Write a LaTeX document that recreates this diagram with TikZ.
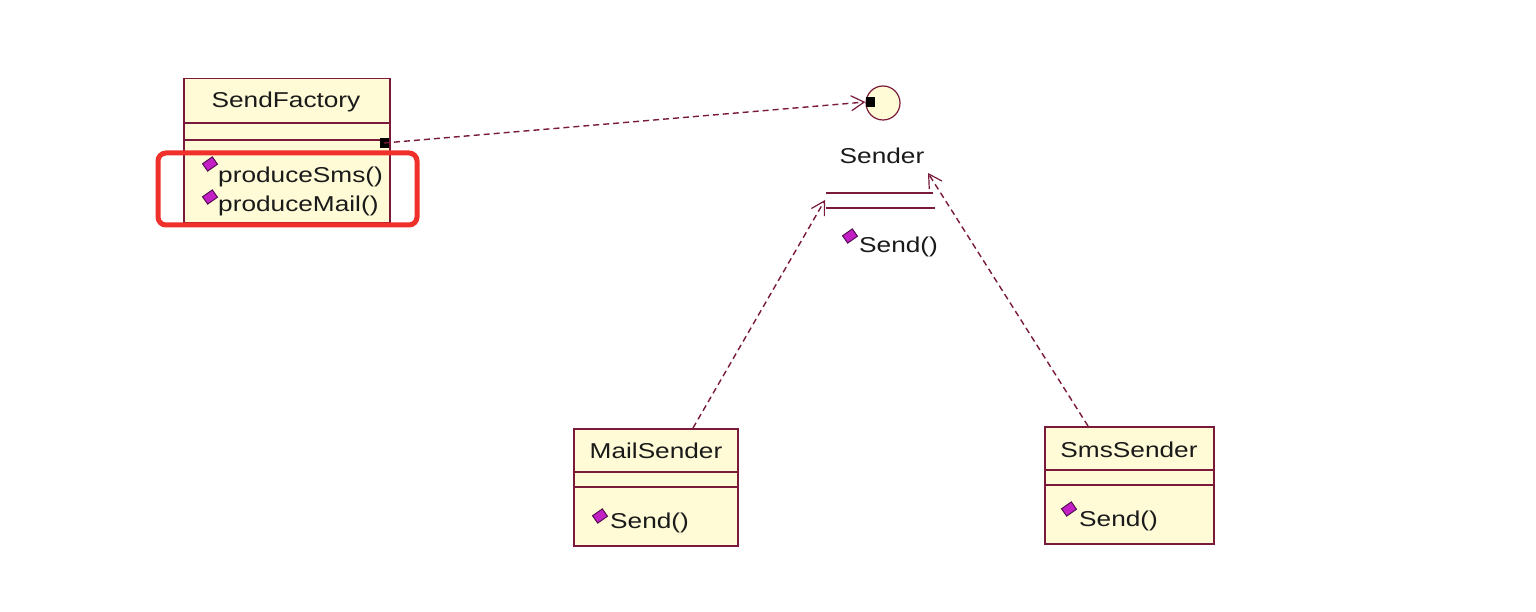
\documentclass[tikz,border=0pt]{standalone}
\usepackage{fontspec}
\setmainfont{Liberation Sans}
\newfontfamily\umlfont[FakeStretch=1.22]{Liberation Sans}
\usetikzlibrary{arrows.meta}
\definecolor{umlfill}{HTML}{FEFBD6}
\definecolor{umlline}{HTML}{7A1A3A}
\definecolor{diafill}{HTML}{C21FC4}
\definecolor{diaedge}{HTML}{4A0A4A}
\definecolor{redmark}{HTML}{F0302A}
\definecolor{umltext}{HTML}{1A1A1A}
\begin{document}
\begin{tikzpicture}[x=1pt,y=-1pt,
  classbox/.style={draw=umlline, fill=umlfill, line width=1.5pt, inner sep=0pt, anchor=north west},
  classline/.style={draw=umlline, line width=1.5pt},
  umllabel/.style={font=\umlfont\fontsize{21.5}{24}\selectfont, text=umltext, inner sep=0pt},
  methodlabel/.style={umllabel, anchor=west},
  opmark/.style={draw=diaedge, fill=diafill, line width=0.9pt, rectangle, rotate=35, minimum width=12pt, minimum height=9pt, inner sep=0pt},
  portmark/.style={fill=black, rectangle, minimum width=9pt, minimum height=10pt, inner sep=0pt},
  realize/.style={draw=umlline, line width=1.4pt, dash pattern=on 6pt off 4pt,
    -{Straight Barb[length=13pt,width=15pt,line width=1.2pt]}},
]
\useasboundingbox (0,0) rectangle (1536,612);
\fill[white] (0,0) rectangle (1536,612);

% SendFactory
\node[classbox, minimum width=206pt, minimum height=144pt] (sf) at (183,78) {};
\draw[classline] (183,123) -- (389,123);
\draw[classline] (183,140) -- (389,140);
\node[umllabel] (sfname) at (286,102) {SendFactory};
\node[opmark] (sfop1) at (210,164) {};
\node[methodlabel] (sfm1) at (218,177) {produceSms()};
\node[opmark] (sfop2) at (210,197) {};
\node[methodlabel] (sfm2) at (218,206) {produceMail()};
\node[portmark] (sfport) at (384,143) {};

% Sender interface
\node[circle, draw=umlline, fill=umlfill, line width=1.2pt, minimum size=34pt, inner sep=0pt] (sendercirc) at (883,103) {};
\node[portmark] (senderport) at (870,102) {};
\node[umllabel] (sendername) at (882,156) {Sender};
\draw[classline] (826,193) -- (933,193);
\draw[classline] (826,208) -- (935,208);
\node[opmark] (senderop) at (850,236) {};
\node[methodlabel] (senderm) at (859,247) {Send()};
\coordinate (senderL) at (825,200);
\coordinate (senderR) at (928,173);

% MailSender
\node[classbox, minimum width=164pt, minimum height=117pt] (ms) at (573,428) {};
\draw[classline] (573,472) -- (737,472);
\draw[classline] (573,487) -- (737,487);
\node[umllabel] (msname) at (656,451) {MailSender};
\node[opmark] (msop) at (600,516) {};
\node[methodlabel] (msm) at (610,523) {Send()};
\coordinate (msTop) at (693,428);

% SmsSender
\node[classbox, minimum width=169pt, minimum height=117pt] (ss) at (1044,426) {};
\draw[classline] (1044,470) -- (1213,470);
\draw[classline] (1044,485) -- (1213,485);
\node[umllabel] (ssname) at (1129,450) {SmsSender};
\node[opmark] (ssop) at (1069,509) {};
\node[methodlabel] (ssm) at (1079,521) {Send()};
\coordinate (ssTop) at (1088,426);

% connectors
\draw[realize] (sfport.center) -- (senderport.west);
\draw[realize] (msTop) -- (senderL);
\draw[realize] (ssTop) -- (senderR);

% red highlight
\draw[redmark, line width=5pt, rounded corners=8pt] (158,153) rectangle (417,225);
\end{tikzpicture}
\end{document}
